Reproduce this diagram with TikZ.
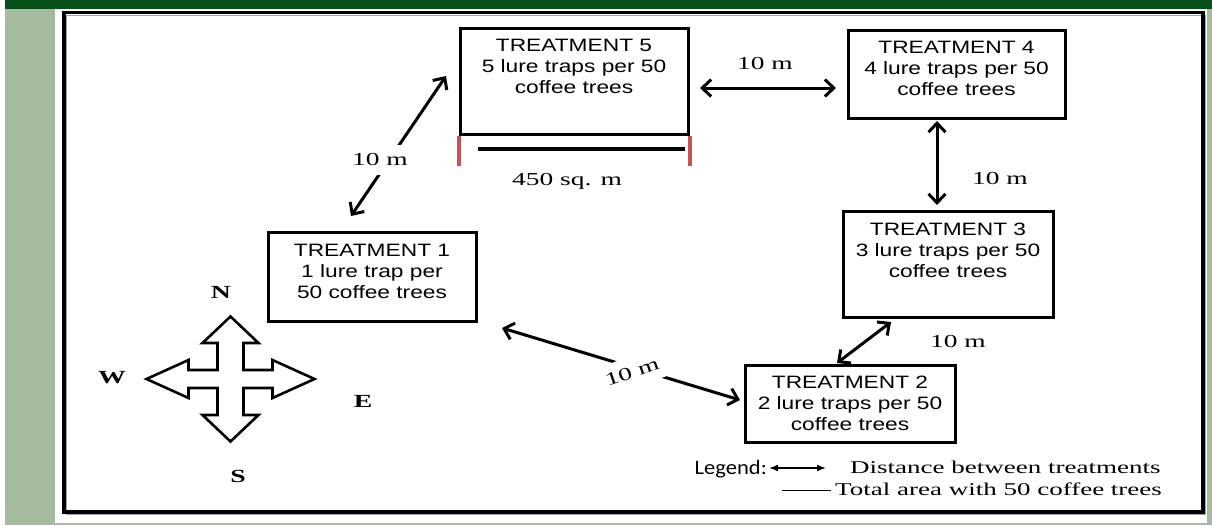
\documentclass[tikz,border=0pt]{standalone}
\usepackage{fontspec}
\usetikzlibrary{arrows.meta,calc}
\newfontfamily\boxfont[FakeStretch=1.27]{Liberation Sans}
\newfontfamily\labfont[FakeStretch=1.5]{Liberation Serif}
\newfontfamily\legfont[FakeStretch=1.1]{Carlito}
\definecolor{sage}{RGB}{164,187,160}
\definecolor{darkgreen}{RGB}{8,80,26}
\definecolor{tickred}{RGB}{200,82,82}
\tikzset{
  tbox/.style={draw, line width=3pt, inner sep=0pt, fill=white},
  btext/.style={anchor=north, inner sep=0pt, align=center, font=\boxfont\fontsize{17.9}{21}\selectfont},
  lab/.style={inner sep=0pt, font=\labfont\fontsize{18.3}{20}\selectfont},
  legtext/.style={inner sep=0pt, font=\labfont\fontsize{18}{20}\selectfont},
  labw/.style={lab, fill=white, inner xsep=3pt, inner ysep=9pt},
  dir/.style={inner sep=0pt, font=\labfont\bfseries\fontsize{18.5}{20}\selectfont},
  conn/.style={line width=3pt, {Straight Barb[length=9pt,width=17pt]}-{Straight Barb[length=9pt,width=17pt]}},
  legarrow/.style={line width=1.6pt, {Latex[length=9pt,width=7pt]}-{Latex[length=9pt,width=7pt]}},
}
\begin{document}
\begin{tikzpicture}[x=1pt,y=-1pt]
\useasboundingbox (0,0) rectangle (1212,525);
% background
\fill[sage] (0,0) rectangle (1212,525);
\fill[white] (0,0) rectangle (5,525);
\fill[darkgreen] (5,0) rectangle (1212,9);
\fill[white] (55,9) rectangle (1207,523);
\draw[black!35, line width=1pt] (66.5,15) rectangle (1205.5,514.5);
\draw[line width=3.2pt] (64,12.5) rectangle (1203,512);

% treatment boxes
\node[tbox, minimum width=228pt, minimum height=106pt] (t5) at (574,81) {};
\node[tbox, minimum width=217pt, minimum height=88pt] (t4) at (956.5,74) {};
\node[tbox, minimum width=210pt, minimum height=106pt] (t3) at (948,264) {};
\node[tbox, minimum width=208pt, minimum height=89pt] (t1) at (372,276.5) {};
\node[tbox, minimum width=210pt, minimum height=77pt] (t2) at (850,403.5) {};

\node[btext] (t5txt) at ($(t5.north)+(0,12.7)$) {TREATMENT 5\\5 lure traps per 50\\coffee trees};
\node[btext] (t4txt) at ($(t4.north)+(0,12.7)$) {TREATMENT 4\\4 lure traps per 50\\coffee trees};
\node[btext] (t3txt) at ($(t3.north)+(0,13)$) {TREATMENT 3\\3 lure traps per 50\\coffee trees};
\node[btext] (t1txt) at ($(t1.north)+(0,13)$) {TREATMENT 1\\1 lure trap per\\50 coffee trees};
\node[btext] (t2txt) at ($(t2.north)+(0,12)$) {TREATMENT 2\\2 lure traps per 50\\coffee trees};

% area marker under treatment 5
\draw[tickred, line width=4pt] (t5.south west) -- ++(0,30) coordinate (rl);
\draw[tickred, line width=4pt] (t5.south east) -- ++(0,30) coordinate (rr);
\coordinate (bl) at (478,149);
\coordinate (br) at (685,149);
\draw[line width=4pt] (bl) -- (br);
\node[lab, anchor=base] (area) at (567,185) {450 sq. m};

% connectors
\coordinate (a5e) at (700,88);
\coordinate (a4w) at (836,88);
\coordinate (a5w) at (446,76);
\coordinate (a1n) at (351,216);
\coordinate (a4s) at (937,121);
\coordinate (a3n) at (937,205);
\coordinate (a3s) at (891,322);
\coordinate (a2n) at (837,363);
\coordinate (a1e) at (502,328);
\coordinate (a2w) at (740,400);
\draw[conn] (a5e) -- (a4w);
\draw[conn] (a5w) -- (a1n);
\draw[conn] (a4s) -- (a3n);
\draw[conn] (a3s) -- (a2n);
\draw[conn] (a1e) -- (a2w);

\node[lab, anchor=base] (d54) at (765,69) {10 m};
\node[labw] (d51) at (380,160) {10 m};
\node[lab, anchor=base] (d43) at (1000,184) {10 m};
\node[lab, anchor=base] (d32) at (958,347) {10 m};
\node[labw, rotate=19] (d12) at (632,372) {10 m};

% compass
\begin{scope}[shift={(230.5,379)}]
\draw[line width=2.6pt, line join=miter, fill=white]
  (0,-62.5) -- (28,-36) -- (13,-36) -- (13,-9) -- (42,-9) -- (42,-19) -- (84,0)
  -- (42,19) -- (42,9) -- (13,9) -- (13,36) -- (28,36) -- (0,62.5)
  -- (-28,36) -- (-13,36) -- (-13,9) -- (-42,9) -- (-42,19) -- (-84,0)
  -- (-42,-19) -- (-42,-9) -- (-13,-9) -- (-13,-36) -- (-28,-36) -- cycle;
\end{scope}
\node[dir] (cn) at (221,292) {N};
\node[dir] (cs) at (238,476) {S};
\node[dir] (cw) at (112,378) {W};
\node[dir] (ce) at (363,401) {E};

% legend
\coordinate (lga) at (769,468);
\coordinate (lgb) at (826,468);
\draw[legarrow] (lga) -- (lgb);
\node[inner sep=0pt, anchor=base east, font=\legfont\fontsize{20.5}{22}\selectfont] (leg) at (767,474) {Legend:};
\node[legtext, anchor=base west] (legd) at (850,473) {Distance between treatments};
\coordinate (lla) at (782,490);
\coordinate (llb) at (831,490);
\draw[line width=1pt] (lla) -- (llb);
\node[legtext, anchor=base west] (legt) at (835,495) {Total area with 50 coffee trees};
\end{tikzpicture}
\end{document}
